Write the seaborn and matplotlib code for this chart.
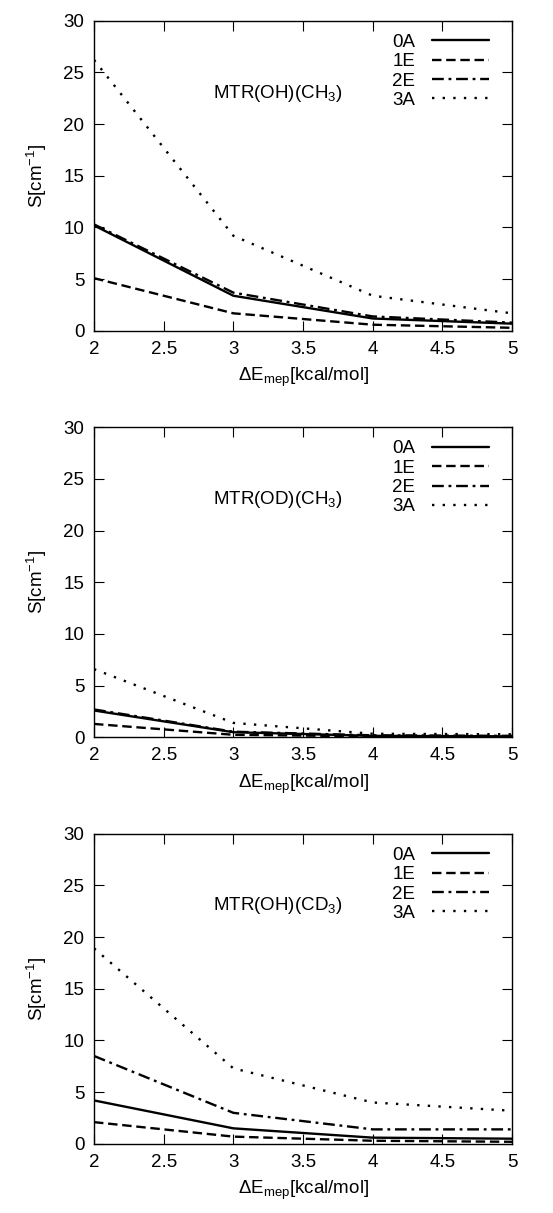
import pandas as pd
import seaborn as sns
import matplotlib.pyplot as plt

# barrier heights (kcal/mol)
de_mep = [2, 3, 4, 5]
states = ['0A', '1E', '2E', '3A']

# S[cm^-1] for each isotopologue, one list per torsional state
oh_ch3_0A = [10.2, 3.4, 1.2, 0.7]
oh_ch3_1E = [5.1, 1.7, 0.6, 0.3]
oh_ch3_2E = [10.3, 3.7, 1.4, 0.8]
oh_ch3_3A = [26.2, 9.2, 3.4, 1.7]

od_ch3_0A = [2.6, 0.5, 0.15, 0.1]
od_ch3_1E = [1.3, 0.25, 0.1, 0.05]
od_ch3_2E = [2.7, 0.55, 0.2, 0.15]
od_ch3_3A = [6.6, 1.4, 0.35, 0.3]

oh_cd3_0A = [4.2, 1.5, 0.6, 0.5]
oh_cd3_1E = [2.1, 0.7, 0.3, 0.2]
oh_cd3_2E = [8.5, 3.0, 1.4, 1.4]
oh_cd3_3A = [18.9, 7.3, 4.0, 3.2]

panels = [
    ('MTR(OH)(CH$_3$)', [oh_ch3_0A, oh_ch3_1E, oh_ch3_2E, oh_ch3_3A]),
    ('MTR(OD)(CH$_3$)', [od_ch3_0A, od_ch3_1E, od_ch3_2E, od_ch3_3A]),
    ('MTR(OH)(CD$_3$)', [oh_cd3_0A, oh_cd3_1E, oh_cd3_2E, oh_cd3_3A]),
]

sns.set_style('ticks')
plt.rcParams['font.family'] = ['Liberation Sans', 'DejaVu Sans']
plt.rcParams['mathtext.fontset'] = 'custom'
plt.rcParams['mathtext.rm'] = 'Liberation Sans'
plt.rcParams['mathtext.it'] = 'Liberation Sans'
for key in ['text.color', 'axes.labelcolor', 'xtick.color', 'ytick.color',
            'axes.edgecolor']:
    plt.rcParams[key] = 'black'

dash_styles = {'0A': '', '1E': (4, 2), '2E': (5, 2, 1.2, 2), '3A': (1, 3.5)}
fs = 13.5

fig, axes = plt.subplots(3, 1, figsize=(5.53, 12.13), dpi=100)
fig.subplots_adjust(left=0.17, right=0.926, top=0.983, bottom=0.057, hspace=0.31)

for ax, (title, series) in zip(axes, panels):
    rows = []
    for st, vals in zip(states, series):
        for x, v in zip(de_mep, vals):
            rows.append({'dE': x, 'S': v, 'state': st})
    df = pd.DataFrame(rows)
    sns.lineplot(data=df, x='dE', y='S', style='state', dashes=dash_styles,
                 color='black', linewidth=1.7, ax=ax)
    ax.set_xlim(2, 5)
    ax.set_ylim(0, 30)
    ax.set_xticks([2, 2.5, 3, 3.5, 4, 4.5, 5])
    ax.set_xticklabels(['2', '2.5', '3', '3.5', '4', '4.5', '5'])
    ax.set_yticks([0, 5, 10, 15, 20, 25, 30])
    ax.tick_params(direction='in', top=True, right=True, length=7,
                   labelsize=fs, pad=7)
    for sp in ax.spines.values():
        sp.set_linewidth(1.0)
    ax.set_xlabel(r'$\Delta$E$_{\rm mep}$[kcal/mol]', fontsize=fs, labelpad=6)
    ax.set_ylabel(r'S[cm$^{-1}$]', fontsize=fs, labelpad=10)
    ax.text(3.32, 23.0, title, fontsize=fs, ha='center', va='center')
    ax.legend(loc='upper right', bbox_to_anchor=(0.975, 1.0), frameon=False,
              markerfirst=False, fontsize=fs, handlelength=3.0,
              labelspacing=0.12, borderaxespad=0.3, handletextpad=0.9)

plt.savefig('out.png', dpi=100)
